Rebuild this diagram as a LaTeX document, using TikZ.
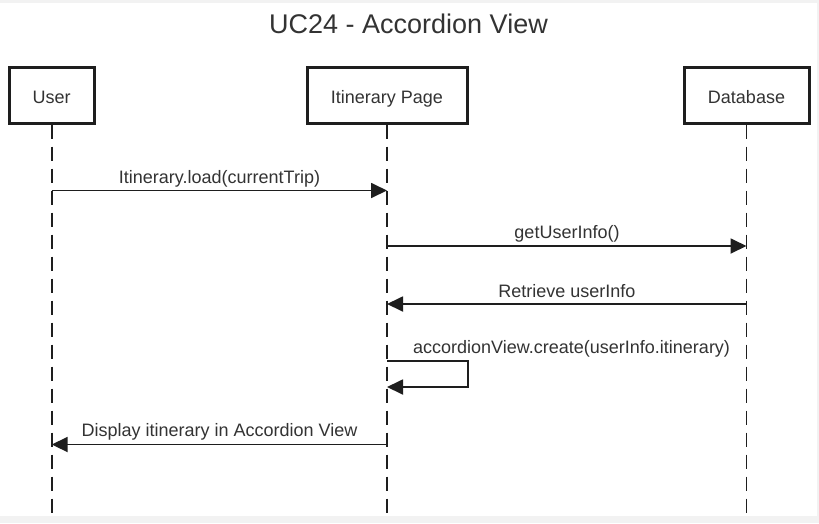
\documentclass[tikz,border=0pt]{standalone}
\usepackage{fontspec}
\setmainfont{Liberation Sans}
\usetikzlibrary{arrows.meta}
\definecolor{txt}{HTML}{333333}
\definecolor{ln}{HTML}{1E1E1E}
\definecolor{bg}{HTML}{F2F2F2}
\begin{document}
\begin{tikzpicture}[x=1pt,y=-1pt,
  actor/.style={draw=ln,line width=3pt,fill=white,minimum height=56pt,inner sep=0pt,
    text height=18pt,text depth=2pt,
    font=\fontsize{18}{21}\selectfont,text=txt},
  lifeline/.style={draw=ln,line width=1.8pt,dash pattern=on 14pt off 8pt},
  msg/.style={draw=ln,line width=1.8pt,-{Triangle[length=16pt,width=15pt]}},
  lbl/.style={font=\fontsize{18}{21}\selectfont,text=txt,anchor=base,inner sep=0pt}]
\useasboundingbox (0,0) rectangle (819,523);
\fill[bg] (0,0) rectangle (819,523);
\fill[white] (0,3) rectangle (817,516);
\node[anchor=base,inner sep=0pt,font=\fontsize{27}{32}\selectfont,text=txt] (title) at (408.5,33) {UC24 - Accordion View};
\node[actor,minimum width=85pt] (user) at (51.7,95) {User};
\node[actor,minimum width=160pt] (page) at (387,95) {Itinerary Page};
\node[actor,minimum width=125pt] (db) at (746.5,95) {Database};
\coordinate (uend) at (51.7,516);
\coordinate (pend) at (387,516);
\coordinate (dend) at (746.5,516);
\draw[lifeline] (user.south) -- (uend);
\draw[lifeline] (page.south) -- (pend);
\draw[lifeline] (db.south) -- (dend);
% messages
\coordinate (u1) at (51.7,190.5);
\coordinate (p1) at (387,190.5);
\draw[msg] (u1) -- (p1);
\node[lbl] (m1) at (219.5,183) {Itinerary.load(currentTrip)};
\coordinate (p2) at (387,246);
\coordinate (d2) at (746.5,246);
\draw[msg] (p2) -- (d2);
\node[lbl] (m2) at (567,238.5) {getUserInfo()};
\coordinate (d3) at (746.5,304);
\coordinate (p3) at (387,304);
\draw[msg] (d3) -- (p3);
\node[lbl] (m3) at (567,297) {Retrieve userInfo};
\coordinate (p4) at (387,361);
\coordinate (p5) at (387,387);
\coordinate (loop) at (468,374);
\draw[msg] (p4) -| (loop) |- (p5);
\node[lbl,anchor=base west] (m4) at (413,353) {accordionView.create(userInfo.itinerary)};
\coordinate (p6) at (387,444.5);
\coordinate (u6) at (51.7,444.5);
\draw[msg] (p6) -- (u6);
\node[lbl] (m5) at (219.5,436.5) {Display itinerary in Accordion View};
\end{tikzpicture}
\end{document}
